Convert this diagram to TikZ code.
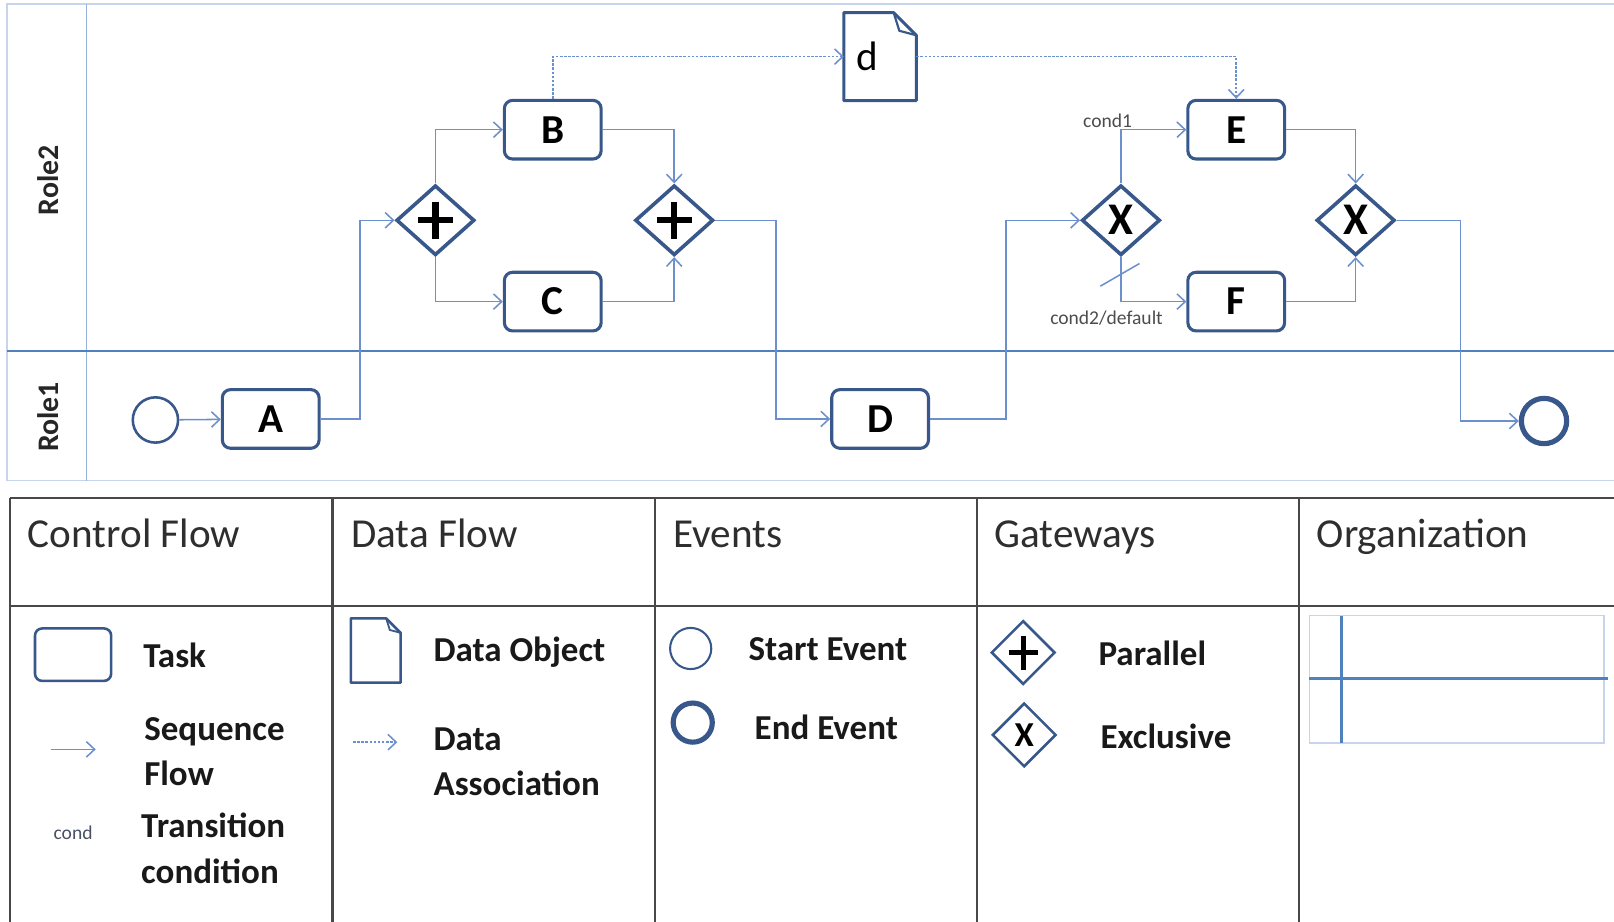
\documentclass[tikz,border=0pt]{standalone}
\usepackage{xcolor}
\usepackage{fontspec}
\setmainfont{Carlito}
\usepackage{tikz}
\usetikzlibrary{shapes.geometric,arrows.meta,calc}
\definecolor{shapeblue}{RGB}{56,87,138}
\definecolor{flowblue}{RGB}{108,144,206}
\definecolor{poolblue}{RGB}{198,213,236}
\definecolor{laneblue}{RGB}{150,178,220}
\definecolor{sepblue}{RGB}{79,129,189}
\definecolor{tablegray}{RGB}{72,72,72}
\definecolor{condgray}{RGB}{72,80,100}
\tikzset{
  task/.style={draw=shapeblue, line width=3pt, rounded corners=8pt, minimum width=94pt, minimum height=57pt, inner sep=0pt, font=\fontsize{40}{40}\selectfont\bfseries},
  gate/.style={diamond, draw=shapeblue, line width=3.5pt, minimum width=76pt, minimum height=68pt, inner sep=0pt},
  plus/.style={path picture={
      \draw[black, line width=#1]
        ($(path picture bounding box.north)!.23!(path picture bounding box.south)$) -- ($(path picture bounding box.south)!.23!(path picture bounding box.north)$)
        ($(path picture bounding box.west)!.27!(path picture bounding box.east)$) -- ($(path picture bounding box.east)!.27!(path picture bounding box.west)$);}},
  andgate/.style={gate, plus=6pt},
  xorgate/.style={gate, font=\fontsize{44}{44}\selectfont\bfseries},
  startev/.style={circle, draw=shapeblue, line width=2.5pt, minimum size=44pt, inner sep=0pt},
  endev/.style={startev, line width=5pt},
  dataobj/.style={minimum width=70pt, minimum height=85pt, inner sep=0pt},
  flow/.style={draw=flowblue, line width=1.5pt, -{Straight Barb[length=8pt,width=15pt]}},
  assoc/.style={flow, dash pattern=on 2.5pt off 1.5pt},
  lanelabel/.style={rotate=90, font=\fontsize{29}{29}\selectfont\bfseries, text=black!85},
  condlabel/.style={font=\fontsize{19}{19}\selectfont, text=black!70, inner sep=0pt},
  header/.style={anchor=base west, inner sep=0pt, font=\fontsize{40}{40}\selectfont, text=black!82},
  legtext/.style={anchor=base west, align=left, inner sep=0pt, font=\fontsize{34}{44}\selectfont\bfseries, text=black!90}
}
% outline of a data object round an (empty) node
\newcommand\docshape[3]{%
  \draw[shapeblue, line width=#3, line join=round]
    (#1.north west) -- ([xshift=-#2]#1.north east) -- ([yshift=-#2]#1.north east)
    -- (#1.south east) -- (#1.south west) -- cycle;
  \draw[shapeblue, line width=#3*0.7, line join=round]
    ([xshift=-#2]#1.north east) -- ([xshift=-0.75*#2,yshift=-0.8*#2]#1.north east) -- ([yshift=-#2]#1.north east);}

\begin{document}
\begin{tikzpicture}[x=1pt,y=-1pt]
\useasboundingbox (0,0) rectangle (1568,895);
\clip (0,0) rectangle (1568,895);

% pool with two lanes
\draw[poolblue, line width=1.5pt] (7,4) rectangle (1600,467);
\draw[laneblue, line width=1.5pt] (84,4) -- (84,467);
\draw[sepblue, line width=1.6pt] (7,341) -- (1600,341);
\node[lanelabel] (role2) at (47,175) {Role2};
\node[lanelabel] (role1) at (47,405) {Role1};

% process
\node[startev] (start) at (151,408) {};
\node[task] (taskA) at (263,407) {A};
\node[andgate] (andsplit) at (423,214) {};
\node[task] (taskB) at (537,126) {B};
\node[task] (taskC) at (537,293) {C};
\node[andgate] (andjoin) at (655,214) {};
\node[dataobj] (dobj) at (855,55) {};
\docshape{dobj}{22pt}{3pt}
\node[font=\fontsize{40}{40}\selectfont, inner sep=0pt] (dname) at (843,55) {d};
\node[task] (taskD) at (855,407) {D};
\node[xorgate] (xorsplit) at (1089,214) {X};
\node[task] (taskE) at (1201,126) {E};
\node[task] (taskF) at (1201,293) {F};
\node[xorgate] (xorjoin) at (1317,214) {X};
\node[endev] (finish) at (1500,409) {};

\draw[flow] (start) -- (taskA);
\draw[flow] (taskA.east) -- ++(38,0) |- (andsplit.west);
\draw[flow] (andsplit.north) |- (taskB.west);
\draw[flow] (andsplit.south) |- (taskC.west);
\draw[flow] (taskB.east) -| (andjoin.north);
\draw[flow] (taskC.east) -| (andjoin.south);
\draw[flow] (andjoin.east) -- ++(59,0) |- (taskD.west);
\draw[flow] (taskD.east) -- ++(74,0) |- (xorsplit.west);
\draw[flow] (xorsplit.north) |- (taskE.west);
\draw[flow] (xorsplit.south) |- (taskF.west);
\draw[flow] (taskE.east) -| (xorjoin.north);
\draw[flow] (taskF.east) -| (xorjoin.south);
\draw[flow] (xorjoin.east) -- ++(62,0) |- (finish.west);
\draw[assoc] (taskB.north) |- (dobj.west);
\draw[assoc] (dobj.east) -| (taskE.north);

% conditions
\coordinate (dflt) at (1089,267);
\draw[flowblue, line width=1.5pt] ([shift={(-20,11)}]dflt) -- ([shift={(18,-11)}]dflt);
\node[condlabel] (cond1) at (1076,117) {cond1};
\node[condlabel] (cond2) at (1075,309) {cond2/default};

% legend table
\draw[tablegray, line width=2.2pt] (10,484) -- (1600,484) (10,589) -- (1600,589);
\foreach \x in {10,323,636,949,1262}
  \draw[tablegray, line width=2.2pt] (\x,484) -- (\x,900);
\foreach \x/\t [count=\i] in {27/Control Flow, 341/Data Flow, 654/Events, 966/Gateways, 1279/Organization}
  \node[header] (head\i) at (\x,532) {\t};

% control flow
\node[task, minimum width=74pt, minimum height=51pt, line width=2.5pt, rounded corners=7pt] (legtask) at (71,636) {};
\node[legtext] (tasktext) at (139,648) {Task};
\coordinate (seqa) at (50,728);
\coordinate (seqb) at (93,728);
\draw[flow] (seqa) -- (seqb);
\node[legtext] (seqtext) at (140,763) {Sequence\\Flow};
\node[condlabel, text=condgray] (legcond) at (71,809) {cond};
\node[legtext] (condtext) at (137,858) {Transition\\condition};

% data flow
\node[dataobj, minimum width=48pt, minimum height=62pt] (legdoc) at (365,632) {};
\docshape{legdoc}{14pt}{2.5pt}
\node[legtext] (doctext) at (421,643) {Data Object};
\coordinate (assa) at (343,721);
\coordinate (assb) at (386,721);
\draw[assoc] (assa) -- (assb);
\node[legtext] (asstext) at (421,773) {Data\\Association};

% events
\node[startev, minimum size=40pt, line width=2pt] (legstart) at (671,630) {};
\node[legtext] (starttext) at (727,642) {Start Event};
\node[endev, minimum size=38pt] (legend) at (673,702) {};
\node[legtext] (endtext) at (733,718) {End Event};

% gateways
\node[gate, plus=5pt, minimum width=62pt, minimum height=62pt, line width=2.5pt] (legand) at (994,634) {};
\node[legtext] (andtext) at (1067,647) {Parallel};
\node[gate, minimum width=62pt, minimum height=62pt, line width=2.5pt, font=\fontsize{34}{34}\selectfont\bfseries] (legxor) at (995,714) {X};
\node[legtext] (xortext) at (1069,727) {Exclusive};

% organization
\draw[poolblue, line width=1.5pt] (1272,598) rectangle (1558,722);
\draw[sepblue, line width=3pt] (1303,598) -- (1303,722) (1272,659) -- (1562,659);
\end{tikzpicture}
\end{document}
